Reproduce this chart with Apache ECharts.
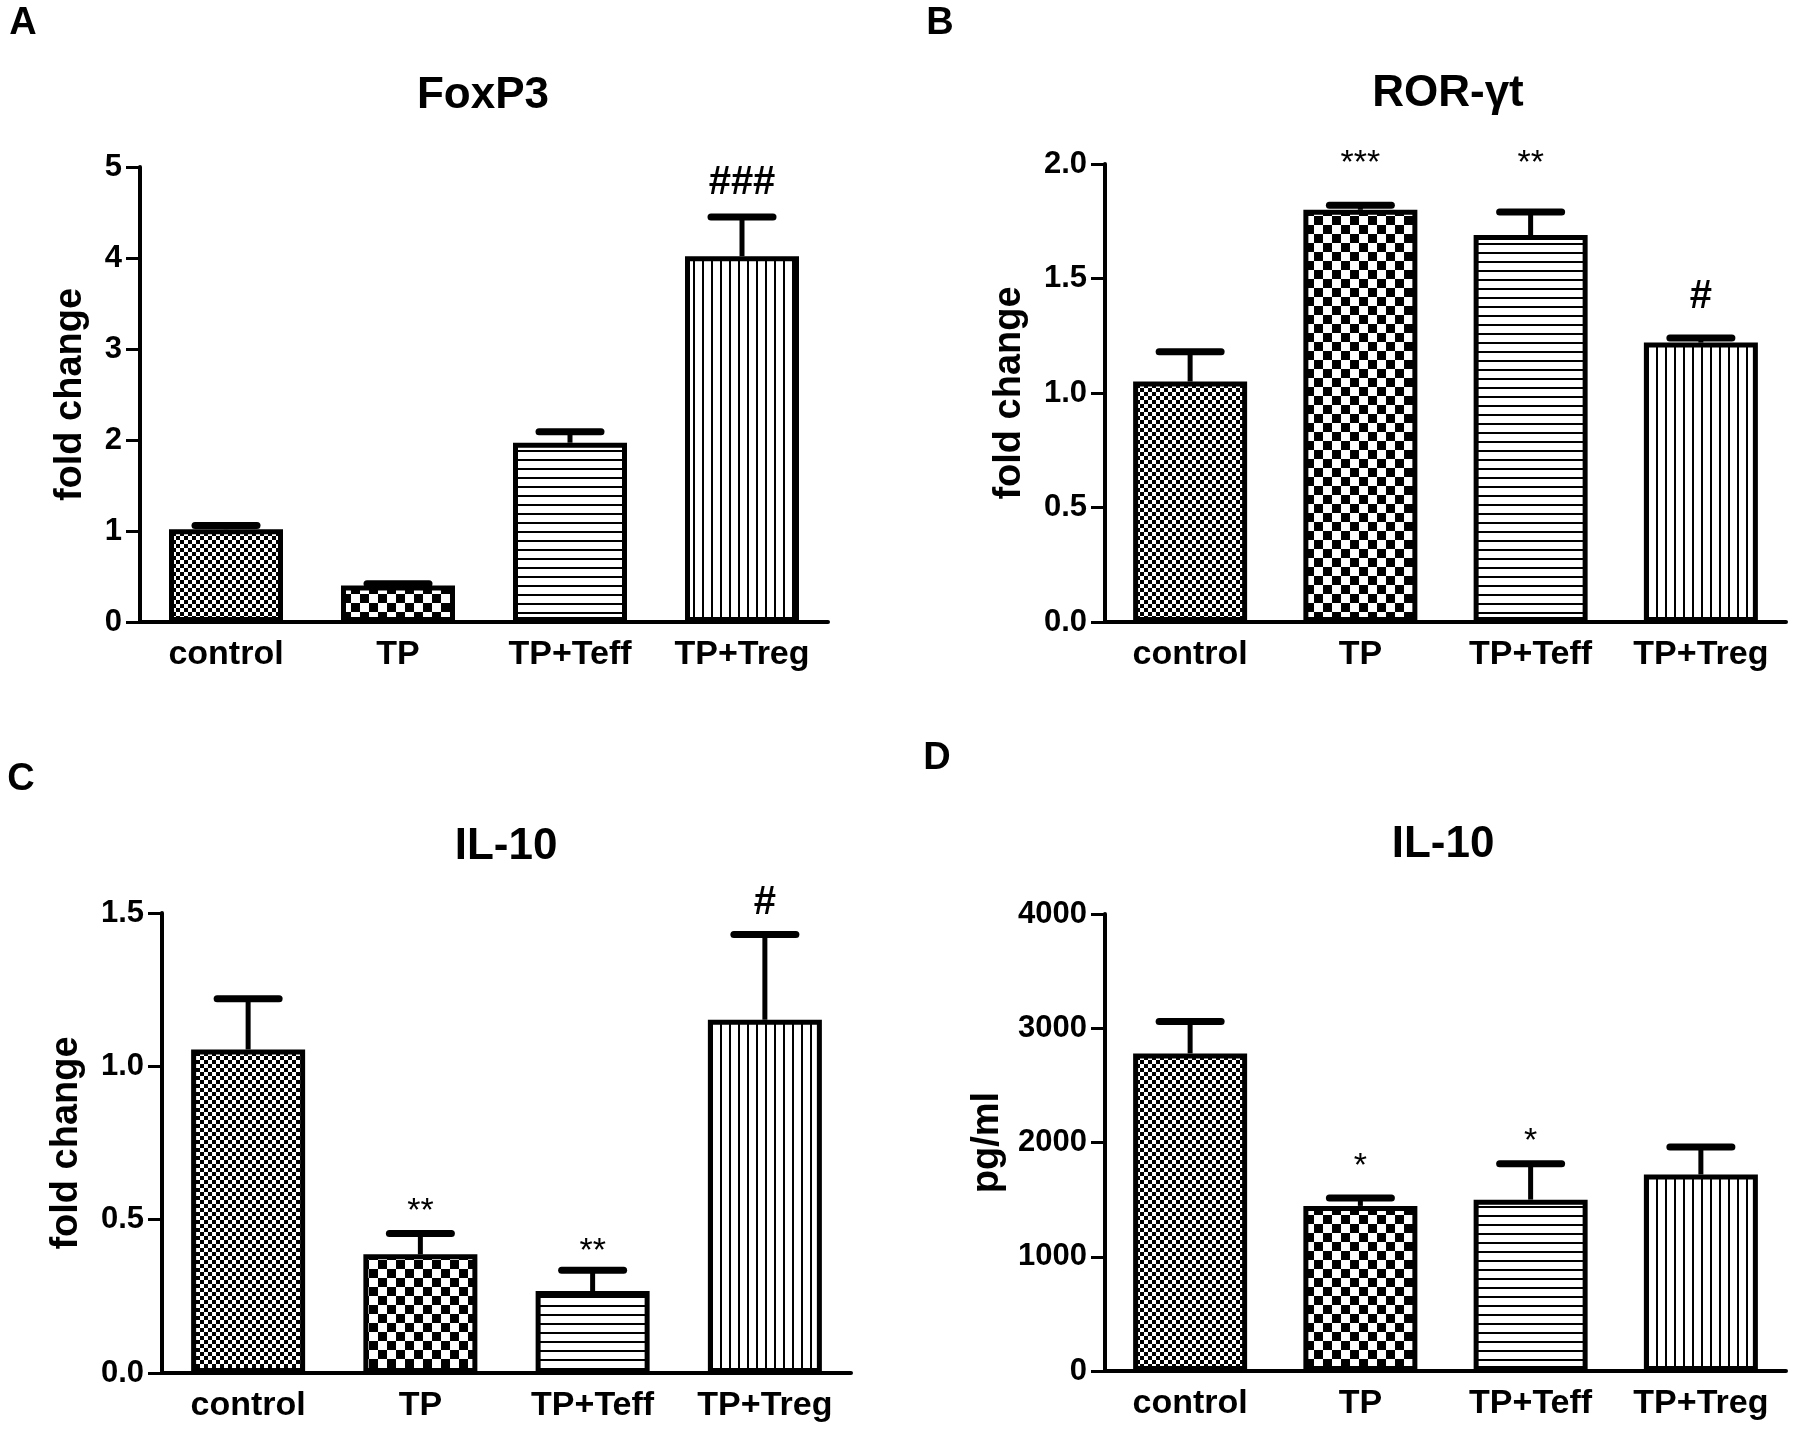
<!DOCTYPE html>
<html>
<head>
<meta charset="utf-8">
<script src="https://cdn.jsdelivr.net/npm/echarts@6/dist/echarts.min.js"></script>
<style>
html,body{margin:0;padding:0;background:#fff;}
#chart{width:1800px;height:1432px;}
</style>
</head>
<body>
<div id="chart"></div>
<script>
// ---------- data ----------
const categories = ['control', 'TP', 'TP+Teff', 'TP+Treg'];

// Panel A: FoxP3 (fold change)
const foxp3Mean = [1.02, 0.40, 1.97, 4.02];
const foxp3ErrTop = [1.06, 0.42, 2.09, 4.45];
const foxp3Marks = ['', '', '', '###'];
const foxp3MarkY = [null, null, null, 4.82];
const foxp3Ticks = [0, 1, 2, 3, 4, 5];

// Panel B: ROR-γt (fold change)
const rorMean = [1.05, 1.80, 1.69, 1.22];
const rorErrTop = [1.18, 1.82, 1.79, 1.24];
const rorMarks = ['', '***', '**', '#'];
const rorMarkY = [null, 2.0, 2.0, 1.42];
const rorTicks = [0.0, 0.5, 1.0, 1.5, 2.0];

// Panel C: IL-10 (fold change)
const il10Mean = [1.055, 0.387, 0.267, 1.152];
const il10ErrTop = [1.22, 0.455, 0.335, 1.43];
const il10Marks = ['', '**', '**', '#'];
const il10MarkY = [null, 0.525, 0.397, 1.533];
const il10Ticks = [0.0, 0.5, 1.0, 1.5];

// Panel D: IL-10 (pg/ml)
const il10pgMean = [2780, 1445, 1500, 1720];
const il10pgErrTop = [3060, 1515, 1815, 1960];
const il10pgMarks = ['', '*', '*', ''];
const il10pgMarkY = [null, 1786, 2004, null];
const il10pgTicks = [0, 1000, 2000, 3000, 4000];

// ---------- patterns ----------
function makeCanvas(w, h, draw) {
  const c = document.createElement('canvas');
  c.width = w; c.height = h;
  const ctx = c.getContext('2d');
  ctx.fillStyle = '#fff';
  ctx.fillRect(0, 0, w, h);
  ctx.fillStyle = '#000';
  draw(ctx);
  return { image: c, repeat: 'repeat' };
}
const fineChecker = makeCanvas(8, 8, ctx => { ctx.fillRect(0, 0, 4, 4); ctx.fillRect(4, 4, 4, 4); });
const coarseChecker = makeCanvas(18, 18, ctx => { ctx.fillRect(0, 0, 9, 9); ctx.fillRect(9, 9, 9, 9); });
const hLines = makeCanvas(9, 9, ctx => { ctx.fillRect(0, 0, 9, 2); });
const vLines = makeCanvas(9, 9, ctx => { ctx.fillRect(0, 0, 2, 9); });
const patterns = [fineChecker, coarseChecker, hLines, vLines];

// ---------- chart ----------
const FONT = '"Liberation Sans", Arial, sans-serif';
const panels = [
  { mean: foxp3Mean, err: foxp3ErrTop, marks: foxp3Marks, markY: foxp3MarkY, ticks: foxp3Ticks, dec: 0,
    grid: { left: 140, top: 167, width: 688, height: 455 }, yName: 'fold change', nameGap: 50 },
  { mean: rorMean, err: rorErrTop, marks: rorMarks, markY: rorMarkY, ticks: rorTicks, dec: 1,
    grid: { left: 1105, top: 164, width: 681, height: 458 }, yName: 'fold change', nameGap: 76 },
  { mean: il10Mean, err: il10ErrTop, marks: il10Marks, markY: il10MarkY, ticks: il10Ticks, dec: 1,
    grid: { left: 162, top: 913, width: 689, height: 460 }, yName: 'fold change', nameGap: 76 },
  { mean: il10pgMean, err: il10pgErrTop, marks: il10pgMarks, markY: il10pgMarkY, ticks: il10pgTicks, dec: 0,
    grid: { left: 1105, top: 914, width: 681, height: 457 }, yName: 'pg/ml', nameGap: 98 }
];

const grids = [], xAxes = [], yAxes = [], series = [];
panels.forEach((p, k) => {
  grids.push(Object.assign({ containLabel: false }, p.grid));
  xAxes.push({
    type: 'category', gridIndex: k, data: categories,
    axisLine: { lineStyle: { color: '#000', width: 4 } },
    axisTick: { alignWithLabel: true, length: 12, lineStyle: { color: '#000', width: 3 } },
    axisLabel: { interval: 0, hideOverlap: false, color: '#000', fontFamily: FONT, fontWeight: 'bold', fontSize: 34, margin: 16 }
  });
  const tk = p.ticks;
  yAxes.push({
    type: 'value', gridIndex: k, min: tk[0], max: tk[tk.length - 1], interval: tk[1] - tk[0],
    name: p.yName, nameLocation: 'middle', nameGap: p.nameGap,
    nameTextStyle: { color: '#000', fontFamily: FONT, fontWeight: 'bold', fontSize: 38 },
    axisLine: { show: true, lineStyle: { color: '#000', width: 4 } },
    axisTick: { show: true, length: 14, lineStyle: { color: '#000', width: 3 } },
    splitLine: { show: false },
    axisLabel: { color: '#000', fontFamily: FONT, fontWeight: 'bold', fontSize: 31, margin: 18,
      formatter: v => v.toFixed(p.dec) }
  });
  series.push({
    type: 'bar', xAxisIndex: k, yAxisIndex: k, barWidth: 114,
    data: p.mean.map((v, i) => ({ value: v, itemStyle: { color: patterns[i], borderColor: '#000', borderWidth: 5 } }))
  });
  series.push({
    type: 'custom', xAxisIndex: k, yAxisIndex: k, z: 5,
    data: p.mean.map((v, i) => [i, v, p.err[i], p.markY[i] == null ? NaN : p.markY[i]]),
    renderItem: function (params, api) {
      const i = api.value(0);
      const base = api.coord([i, api.value(1)]);
      const top = api.coord([i, api.value(2)]);
      const half = 31;
      const children = [
        { type: 'line', shape: { x1: base[0], y1: base[1], x2: top[0], y2: top[1] },
          style: { stroke: '#000', lineWidth: 5 } },
        { type: 'line', shape: { x1: top[0] - half, y1: top[1], x2: top[0] + half, y2: top[1] },
          style: { stroke: '#000', lineWidth: 7, lineCap: 'round' } }
      ];
      const mark = p.marks[params.dataIndex];
      const my = api.value(3);
      if (mark && !isNaN(my)) {
        const mp = api.coord([i, my]);
        const isStar = mark.indexOf('*') >= 0;
        children.push({ type: 'text', x: mp[0], y: mp[1],
          style: { text: mark, align: 'center', verticalAlign: 'middle', fill: '#000',
            font: (isStar ? 'normal 34px ' : 'bold 40px ') + FONT } });
      }
      return { type: 'group', children: children };
    }
  });
});

const titleTexts = [
  { text: 'FoxP3', x: 483, y: 96 },
  { text: 'ROR-γt', x: 1448, y: 94 },
  { text: 'IL-10', x: 506, y: 847 },
  { text: 'IL-10', x: 1443, y: 845 }
];
const panelLetters = [
  { text: 'A', x: 23, y: 24 },
  { text: 'B', x: 940, y: 24 },
  { text: 'C', x: 21, y: 780 },
  { text: 'D', x: 937, y: 759 }
];
const graphics = [];
titleTexts.forEach(t => graphics.push({ type: 'text', x: t.x, y: t.y,
  style: { text: t.text, textAlign: 'center', textVerticalAlign: 'middle', fill: '#000', font: 'bold 44px ' + FONT } }));
panelLetters.forEach(t => graphics.push({ type: 'text', x: t.x, y: t.y,
  style: { text: t.text, textAlign: 'center', textVerticalAlign: 'middle', fill: '#000', font: 'bold 38px ' + FONT } }));

const chart = echarts.init(document.getElementById('chart'), null, { renderer: 'canvas' });
chart.setOption({
  animation: false,
  backgroundColor: '#fff',
  grid: grids, xAxis: xAxes, yAxis: yAxes, series: series,
  graphic: graphics
});
</script>
</body>
</html>
